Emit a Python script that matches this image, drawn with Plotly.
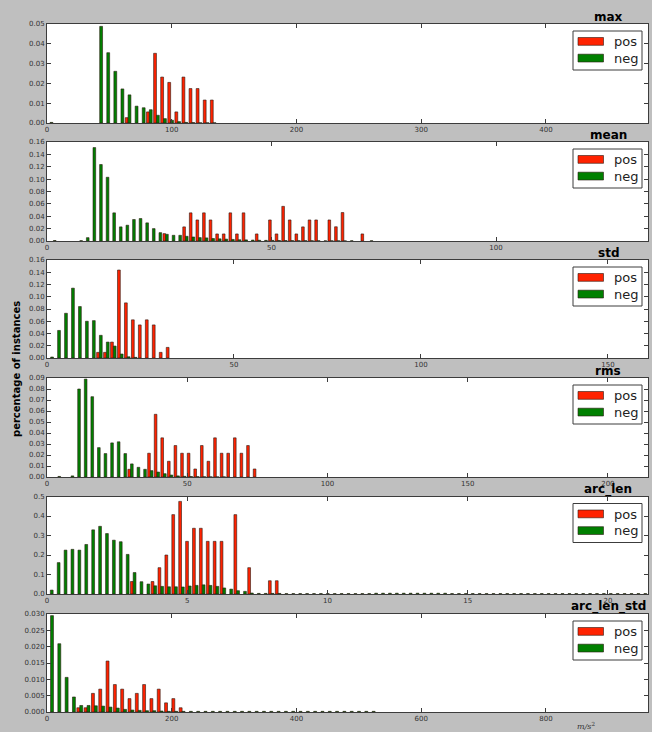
import plotly.graph_objects as go

W, H = 652, 732

series_names = ["pos", "neg"]
series_colors = ["#ff2200", "#008000"]
edge_color = "#2a1a10"

panel_titles = ["max", "mean", "std", "rms", "arc_len", "arc_len_std"]

# ---- histogram data (first bin centre, bin width, values per bin) ----
max_bins = (2.44, 5.687)
max_pos = [0, 0, 0, 0, 0, 0, 0, 0, 0, 0, 0, 0.0027, 0, 0, 0.0056, 0.0352, 0.0232,
           0.0205, 0.0056, 0.0232, 0.0174, 0.0174, 0.0116, 0.0116]
max_neg = [0.0003, 0, 0, 0, 0, 0, 0, 0.0488, 0.0355, 0.0261, 0.0172, 0.0142, 0.0085,
           0.0077, 0.0067, 0.0039, 0.0022, 0.0014, 0.0007, 0.0003, 0.0002, 0.0001,
           0.0001, 0.0001]

mean_bins = (1.43, 1.47)
mean_pos = [0, 0, 0, 0, 0, 0, 0, 0, 0, 0, 0, 0, 0, 0, 0, 0, 0, 0.0119, 0, 0, 0.0228,
            0.0455, 0.034, 0.0455, 0.034, 0.0114, 0.0114, 0.0455, 0.0114, 0.0455, 0,
            0.0114, 0, 0.034, 0.0114, 0.056, 0.034, 0.0114, 0.0228, 0.034, 0.034, 0,
            0.034, 0.023, 0.046, 0, 0, 0.0114, 0]
mean_neg = [0.0008, 0, 0, 0, 0.0005, 0.0054, 0.151, 0.1236, 0.103, 0.0455, 0.0228,
            0.0255, 0.0347, 0.0363, 0.0293, 0.020, 0.0135, 0.0108, 0.0092, 0.0092,
            0.0076, 0.0065, 0.0055, 0.005, 0.004, 0.0035, 0.003, 0.0025, 0.002, 0.0018,
            0.0015, 0.0012, 0.001, 0.001, 0.0008, 0.0007, 0.0006, 0.0005, 0.0005,
            0.0004, 0.0004, 0.0003, 0.0003, 0.0003, 0.0002, 0.0004, 0, 0, 0.0004]

std_bins = (0.98, 1.862)
std_pos = [0, 0, 0, 0, 0, 0, 0, 0.0092, 0.0092, 0.026, 0.1436, 0.090, 0.0623, 0.054,
           0.0623, 0.054, 0.0092, 0.0173]
std_neg = [0.0016, 0.045, 0.073, 0.114, 0.084, 0.060, 0.061, 0.037, 0.026, 0.0195,
           0.0065, 0.002, 0.001, 0, 0, 0, 0, 0]

rms_bins = (3.9, 2.353)
rms_pos = [0, 0, 0, 0, 0, 0, 0, 0, 0, 0, 0, 0.007, 0, 0, 0.0216, 0.057, 0.0356, 0.0143,
           0.0286, 0.0216, 0.0216, 0.0073, 0.0286, 0.0143, 0.0356, 0.0216, 0.0216,
           0.0356, 0.0216, 0.0286, 0.0073]
rms_neg = [0.0005, 0, 0.001, 0.080, 0.089, 0.073, 0.0267, 0.0213, 0.031, 0.032, 0.0213,
           0.0119, 0.0088, 0.007, 0.0058, 0.0045, 0.003, 0.0018, 0.001, 0.0006, 0.0004,
           0.0003, 0.0002, 0.0001, 0.0001, 0.0001, 0, 0, 0, 0, 0]

arc_len_bins = (0.12, 0.2461)
arc_len_pos = [0, 0, 0, 0, 0, 0, 0, 0, 0, 0, 0, 0, 0.064, 0, 0, 0.064, 0.135, 0.2,
               0.407, 0.475, 0.27, 0.337, 0.337, 0.27, 0.27, 0.27, 0, 0.407, 0, 0.135,
               0, 0, 0.068, 0.068]
arc_len_neg = [0.02, 0.161, 0.225, 0.229, 0.225, 0.254, 0.329, 0.347, 0.31, 0.276,
               0.268, 0.203, 0.11, 0.063, 0.051, 0.042, 0.039, 0.037, 0.037, 0.036,
               0.041, 0.044, 0.047, 0.044, 0.039, 0.031, 0.025, 0.017, 0.0135, 0.005,
               0.003, 0.003, 0.003, 0.003, 0.002, 0.002, 0.002, 0.002, 0.002, 0.002,
               0.002, 0.002, 0.002, 0.002, 0.002, 0.002, 0.002, 0.004, 0.004, 0.004,
               0.004, 0.004, 0.004, 0.004, 0.004, 0.004, 0.004, 0.004, 0.002, 0.002,
               0.002, 0.002, 0.002, 0.002, 0.002, 0.002, 0.002, 0.002, 0.002, 0.002,
               0.002, 0.002, 0.002, 0.002, 0.002, 0.002, 0.002, 0.002, 0.002, 0.002,
               0.002, 0.002, 0.002, 0.002, 0.002, 0.002, 0.002]

arc_len_std_bins = (5.67, 11.72)
arc_len_std_pos = [0, 0, 0, 0, 0.0013, 0.0013, 0.0057, 0.007, 0.0156, 0.0084, 0.007,
                   0.0041, 0.0057, 0.0084, 0.0041, 0.007, 0.0028, 0.0041, 0.0013]
arc_len_std_neg = [0.0295, 0.0209, 0.0106, 0.0046, 0.002, 0.002, 0.0019, 0.0018,
                   0.0015, 0.0012, 0.0008, 0.0006, 0.0005, 0.0004, 0.0004, 0.0003,
                   0.0002, 0.0002, 0.0002, 0.0002, 0.0002, 0.0002, 0.0002, 0.0002,
                   0.0002, 0.0002, 0.0002, 0.0002, 0.0002, 0.0002, 0.0002, 0.0002,
                   0.0002, 0.0002, 0.0002, 0.0002, 0.0002, 0.0002, 0.0002, 0.0002,
                   0.0002, 0.0002, 0.0002, 0.0002, 0.0002]

x_ranges = [481.8, 133.85, 160.7, 214.3, 21.43, 963.6]
x_dticks = [100, 50, 50, 50, 5, 200]
y_ranges = [0.05, 0.16, 0.16, 0.09, 0.5, 0.030]
y_dticks = [0.01, 0.02, 0.02, 0.01, 0.1, 0.005]
y_formats = [".2f", ".2f", ".2f", ".2f", ".1f", ".3f"]

x_unit_label = "<i>m/s</i><sup>2</sup>"
y_label = "percentage of instances"

panels = [
    (max_bins, max_pos, max_neg),
    (mean_bins, mean_pos, mean_neg),
    (std_bins, std_pos, std_neg),
    (rms_bins, rms_pos, rms_neg),
    (arc_len_bins, arc_len_pos, arc_len_neg),
    (arc_len_std_bins, arc_len_std_pos, arc_len_std_neg),
]

# ---- layout geometry (pixels) ----
plot_left, plot_right = 47, 648
panel_tops = [24, 142, 260, 378, 496.5, 614]
panel_bottoms = [123, 241, 358, 477, 594, 712]

def px(x):
    return x / W

def py(y):
    return 1 - y / H

FONT = "DejaVu Sans"
fig = go.Figure()
shapes = []
annotations = []
layout_axes = {}

for i, ((c0, bw), pos, neg) in enumerate(panels):
    n = i + 1
    xa = "x" if n == 1 else f"x{n}"
    ya = "y" if n == 1 else f"y{n}"
    for name, color, vals in zip(series_names, series_colors, (pos, neg)):
        centres = [c0 + k * bw for k in range(len(vals))]
        fig.add_trace(go.Bar(
            x=centres, y=[v if v else None for v in vals], name=name,
            marker=dict(color=color, line=dict(color=edge_color, width=0.6)),
            xaxis=xa, yaxis=ya, showlegend=False, offsetgroup=name,
        ))
    common = dict(showline=True, linecolor="#3c3c3c", linewidth=1, mirror="ticks",
                  ticks="inside", ticklen=4, tickcolor="#3c3c3c", showgrid=False,
                  zeroline=False, automargin=False,
                  tickfont=dict(family=FONT, size=7, color="#333"))
    layout_axes["xaxis" if n == 1 else f"xaxis{n}"] = dict(
        domain=[px(plot_left), px(plot_right)], anchor=ya,
        range=[0, x_ranges[i]], dtick=x_dticks[i], tick0=0, **common)
    layout_axes["yaxis" if n == 1 else f"yaxis{n}"] = dict(
        domain=[py(panel_bottoms[i]), py(panel_tops[i])], anchor=xa,
        range=[0, y_ranges[i]], dtick=y_dticks[i], tick0=0,
        tickformat=y_formats[i], **common)

    top = panel_tops[i]
    # title
    annotations.append(dict(
        text=f"<b>{panel_titles[i]}</b>", x=px(608), y=py(top), xref="paper", yref="paper",
        xanchor="center", yanchor="bottom", showarrow=False, yshift=-2,
        font=dict(family=FONT, size=12, color="black")))
    # legend box
    shapes.append(dict(type="rect", xref="paper", yref="paper",
                       x0=px(573), x1=px(642), y0=py(top + 7), y1=py(top + 46),
                       fillcolor="white", line=dict(color="#3c3c3c", width=1)))
    for j, (name, color) in enumerate(zip(series_names, series_colors)):
        y0 = top + 13.5 + j * 16.7
        shapes.append(dict(type="rect", xref="paper", yref="paper",
                           x0=px(578), x1=px(603.5), y0=py(y0), y1=py(y0 + 7.8),
                           fillcolor=color, line=dict(color=edge_color, width=0.6)))
        annotations.append(dict(
            text=name, x=px(612), y=py(y0 + 4), xref="paper", yref="paper",
            xanchor="left", yanchor="middle", showarrow=False,
            font=dict(family=FONT, size=13, color="#222")))

annotations.append(dict(
    text=f"<b>{y_label}</b>", x=px(17), y=py(369), xref="paper", yref="paper",
    xanchor="center", yanchor="middle", textangle=-90, showarrow=False,
    font=dict(family=FONT, size=10, color="black")))
annotations.append(dict(
    text=x_unit_label, x=px(586), y=py(726), xref="paper", yref="paper",
    xanchor="center", yanchor="middle", showarrow=False,
    font=dict(family="DejaVu Serif", size=8, color="#333")))

fig.update_layout(
    width=W, height=H, autosize=False,
    margin=dict(l=0, r=0, t=0, b=0),
    paper_bgcolor="#bfbfbf", plot_bgcolor="white",
    barmode="group", bargap=0.2, bargroupgap=0,
    shapes=shapes, annotations=annotations,
    font=dict(family=FONT),
    **layout_axes,
)

fig.write_html("out.html", config={"displayModeBar": False},
               post_script="document.body.style.margin='0';document.body.style.padding='0';")
